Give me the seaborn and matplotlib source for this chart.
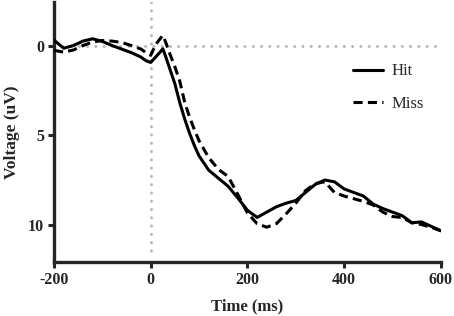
import matplotlib
matplotlib.use("Agg")
import matplotlib.pyplot as plt
import seaborn as sns
import pandas as pd

time_ms = [-200, -180, -160, -140, -120, -100, -80, -60, -40, -20, -10, 0, 10, 20, 25, 30, 40, 50,
           60, 70, 80, 90, 100, 120, 140, 160, 180, 200, 220, 240, 260, 280, 300, 320, 340, 360,
           380, 400, 420, 440, 460, 480, 500, 520, 540, 560, 580, 600]
hit = [-0.35, 0.1, -0.05, -0.3, -0.43, -0.28, -0.05, 0.15, 0.35, 0.6, 0.8, 0.9, 0.6, 0.3, 0.13,
       0.5, 1.3, 2.1, 3.15, 4.05, 4.85, 5.55, 6.15, 6.95, 7.4, 7.85, 8.5, 9.2, 9.6, 9.3, 9.0,
       8.8, 8.65, 8.2, 7.75, 7.5, 7.6, 8.0, 8.2, 8.4, 8.85, 9.1, 9.3, 9.5, 9.9, 9.85, 10.1, 10.35]
miss = [0.22, 0.32, 0.2, -0.05, -0.25, -0.33, -0.3, -0.22, -0.05, 0.15, 0.35, 0.5, -0.1, -0.45,
        -0.62, -0.3, 0.45, 1.15, 1.95, 3.1, 3.95, 4.65, 5.3, 6.25, 6.9, 7.3, 8.3, 9.35, 9.95,
        10.15, 9.95, 9.4, 8.8, 8.1, 7.7, 7.6, 8.2, 8.4, 8.55, 8.7, 8.9, 9.3, 9.55, 9.6, 9.9,
        10.0, 10.15, 10.35]
conditions = ["Hit", "Miss"]
x_ticks = [-200, 0, 200, 400, 600]
y_ticks = [0, 5, 10]

df = pd.DataFrame({
    "Time (ms)": time_ms * 2,
    "Voltage (uV)": hit + miss,
    "Condition": [conditions[0]] * len(time_ms) + [conditions[1]] * len(time_ms),
})

sns.set_style("ticks")
plt.rcParams["font.family"] = ["Liberation Serif", "DejaVu Serif"]
plt.rcParams["axes.unicode_minus"] = False

fig = plt.figure(figsize=(4.54, 3.16), dpi=100)
ax = fig.add_axes([0.119, 0.171, 0.852, 0.823])

ax.axhline(0, color="#b8b8b8", lw=2.2, linestyle=(0, (0.01, 2.7)), dash_capstyle="round", zorder=1)
ax.plot([0, 0], [-2.5, 11.6], color="#b8b8b8", lw=2.2, linestyle=(0, (0.01, 2.7)),
        dash_capstyle="round", zorder=1)

sns.lineplot(data=df, x="Time (ms)", y="Voltage (uV)", style="Condition",
             dashes={"Hit": "", "Miss": (3.0, 1.7)}, color="black", linewidth=2.2,
             ax=ax, zorder=3)
for ln in ax.get_lines()[2:]:
    ln.set_solid_joinstyle("round")
    ln.set_dash_joinstyle("round")

ax.set_xlim(-200, 600)
ax.set_ylim(12.1, -2.5)
ax.set_xticks(x_ticks)
ax.set_yticks(y_ticks)
ax.tick_params(axis="both", direction="out", length=4, width=2.2, labelsize=11.5, pad=3)
for lab in ax.get_xticklabels() + ax.get_yticklabels():
    lab.set_fontweight("bold")
for side in ["left", "bottom"]:
    ax.spines[side].set_linewidth(2.4)
sns.despine(ax=ax)

ax.set_xlabel("Time (ms)", fontsize=12, fontweight="bold", labelpad=8)
ax.set_ylabel("Voltage (uV)", fontsize=12.5, fontweight="bold", labelpad=6)

handles, labels = ax.get_legend_handles_labels()
ax.legend(handles, labels, frameon=False, fontsize=12, loc="center left",
          bbox_to_anchor=(0.755, 0.67), labelspacing=1.0, handlelength=1.8,
          handletextpad=0.55, borderaxespad=0)

fig.savefig("out.png", dpi=100)
